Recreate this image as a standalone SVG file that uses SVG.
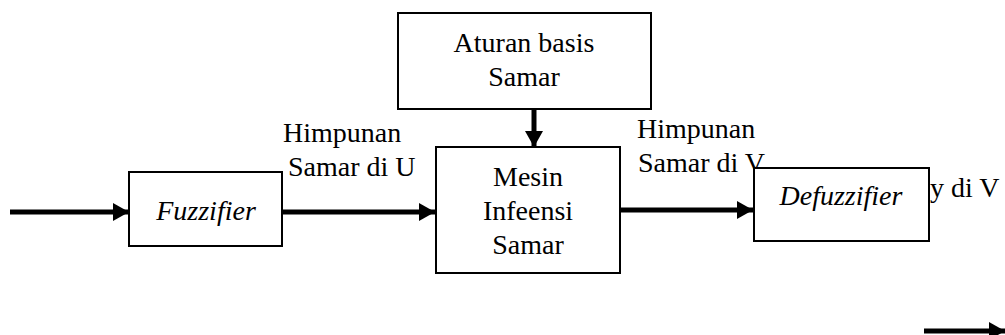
<svg xmlns="http://www.w3.org/2000/svg" width="1005" height="335" viewBox="0 0 1005 335">
<style>
.box{fill:#fff;stroke:#000;stroke-width:2}
text{font-family:'Liberation Serif','Times New Roman',serif;font-size:28px;fill:#000}
.c{text-anchor:middle}
.i{font-style:italic}
.ln{stroke:#000;stroke-width:5;fill:none}
</style>
<defs>
<marker id="ah" markerUnits="userSpaceOnUse" markerWidth="16" markerHeight="20" refX="16" refY="10" orient="auto">
<path d="M0,1 L16,10 L0,19 Z" fill="#000"/>
</marker>
</defs>
<rect width="1005" height="335" fill="#fff"/>
<g id="connectors">
<line class="ln" x1="10" y1="212" x2="129" y2="212" marker-end="url(#ah)"/>
<line class="ln" x1="282" y1="212" x2="435" y2="212" marker-end="url(#ah)"/>
<line class="ln" x1="534" y1="109" x2="534" y2="147" marker-end="url(#ah)"/>
<line class="ln" x1="620" y1="210" x2="753" y2="210" marker-end="url(#ah)"/>
<line class="ln" x1="924" y1="331" x2="1005" y2="331" marker-end="url(#ah)"/>
</g>
<g id="aturan">
<rect class="box" x="398" y="13" width="253" height="96"/>
<text class="c" x="524" y="52">Aturan basis</text>
<text class="c" x="524" y="86">Samar</text>
</g>
<g id="fuzzifier">
<rect class="box" x="129" y="172" width="153" height="74"/>
<text class="c i" x="206" y="220">Fuzzifier</text>
</g>
<g id="mesin">
<rect class="box" x="436" y="147" width="184" height="126"/>
<text class="c" x="528" y="186">Mesin</text>
<text class="c" x="528" y="220">Infeensi</text>
<text class="c" x="528" y="254">Samar</text>
</g>
<g id="label-u">
<text x="283" y="142">Himpunan</text>
<text x="288" y="176">Samar di U</text>
</g>
<g id="label-v">
<text x="637" y="138">Himpunan</text>
<text x="638" y="172">Samar di V</text>
</g>
<g id="defuzzifier">
<rect class="box" x="754" y="168" width="175" height="73"/>
<text class="c i" x="841" y="205">Defuzzifier</text>
</g>
<g id="label-y">
<text x="930" y="197">y di V</text>
</g>
</svg>
